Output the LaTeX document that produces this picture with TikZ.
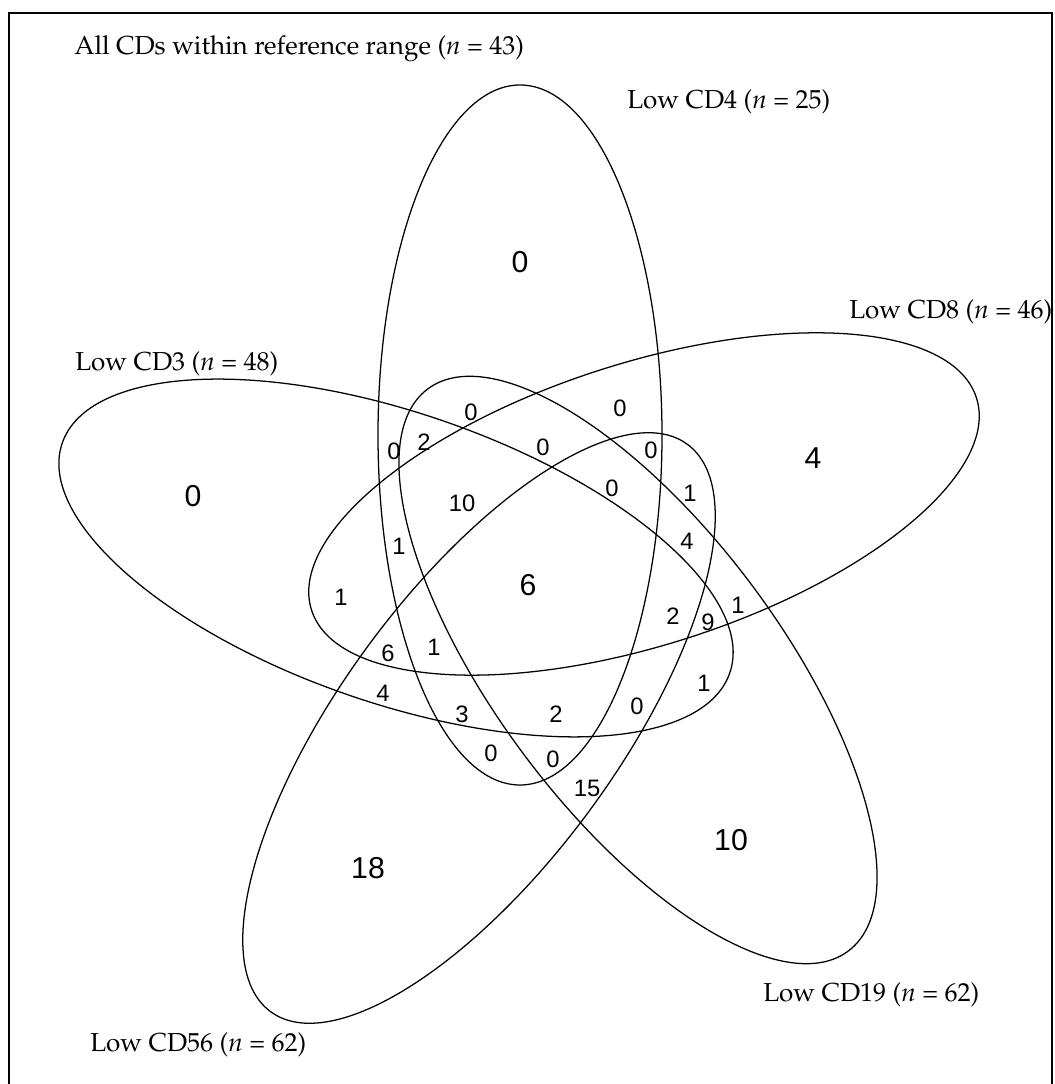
\documentclass[tikz,border=0pt]{standalone}
\usepackage{fontspec}
\newfontfamily\numfont{Liberation Sans}
\newcommand{\lblfont}{\fontencoding{T1}\fontfamily{ppl}\fontsize{18.5}{22}\selectfont}
\begin{document}
\begin{tikzpicture}[
    x=0.025cm, y=0.025cm,
    setline/.style={draw=black, line width=0.9pt},
    framebox/.style={draw=black, line width=1pt},
    bignum/.style={font=\numfont\fontsize{21.5}{24}\selectfont, inner sep=0pt},
    smallnum/.style={font=\numfont\fontsize{16.9}{19}\selectfont, inner sep=0pt},
    setlabel/.style={font=\lblfont, anchor=base west, inner sep=0pt}
]
\useasboundingbox (0,0) rectangle (1054,1084);

% Outer frame
\draw [framebox] (9,-10) -- (9,1071) -- (1052,1071) -- (1052,-10);

% Set ellipses
\draw [setline] (520,649) ellipse [x radius=350, y radius=142, rotate=90];   % CD4
\draw [setline] (644,580) ellipse [x radius=349, y radius=141, rotate=17.7]; % CD8
\draw [setline] (396,526) ellipse [x radius=353, y radius=145, rotate=-19];  % CD3
\draw [setline] (638,414) ellipse [x radius=351, y radius=142, rotate=-53.2]; % CD19
\draw [setline] (479,356) ellipse [x radius=352, y radius=138, rotate=53.7]; % CD56

% Set labels
\node (lbl_all) [setlabel] at (74,1029) {All CDs within reference range (\textit{n} = 43)};
\node (lbl_cd4) [setlabel] at (627,975) {Low CD4 (\textit{n} = 25)};
\node (lbl_cd8) [setlabel] at (849,765) {Low CD8 (\textit{n} = 46)};
\node (lbl_cd3) [setlabel] at (75,713) {Low CD3 (\textit{n} = 48)};
\node (lbl_cd19) [setlabel] at (763,82) {Low CD19 (\textit{n} = 62)};
\node (lbl_cd56) [setlabel] at (90,32) {Low CD56 (\textit{n} = 62)};

% Single-set and core counts
\node (only_cd4) [bignum] at (520,822) {0};
\node (only_cd8) [bignum] at (813,626) {4};
\node (only_cd3) [bignum] at (193,588) {0};
\node (only_cd56) [bignum] at (368,216) {18};
\node (only_cd19) [bignum] at (731,244) {10};
\node (all_five) [bignum] at (528,499) {6};

% Overlap counts
\node (r01) [smallnum] at (471,672) {0};
\node (r02) [smallnum] at (620,676) {0};
\node (r03) [smallnum] at (394,633) {0};
\node (r04) [smallnum] at (424,642) {2};
\node (r05) [smallnum] at (543,637) {0};
\node (r06) [smallnum] at (651,634) {0};
\node (r07) [smallnum] at (612,596) {0};
\node (r08) [smallnum] at (690,591) {1};
\node (r09) [smallnum] at (462,581) {10};
\node (r10) [smallnum] at (687,543) {4};
\node (r11) [smallnum] at (399,538) {1};
\node (r12) [smallnum] at (341,487) {1};
\node (r13) [smallnum] at (673,468) {2};
\node (r14) [smallnum] at (708,462) {9};
\node (r15) [smallnum] at (738,479) {1};
\node (r16) [smallnum] at (388,431) {6};
\node (r17) [smallnum] at (434,437) {1};
\node (r18) [smallnum] at (383,391) {4};
\node (r19) [smallnum] at (462,370) {3};
\node (r20) [smallnum] at (556,370) {2};
\node (r21) [smallnum] at (637,378) {0};
\node (r22) [smallnum] at (704,401) {1};
\node (r23) [smallnum] at (491,331) {0};
\node (r24) [smallnum] at (553,325) {0};
\node (r25) [smallnum] at (587,296) {15};

\end{tikzpicture}
\end{document}
